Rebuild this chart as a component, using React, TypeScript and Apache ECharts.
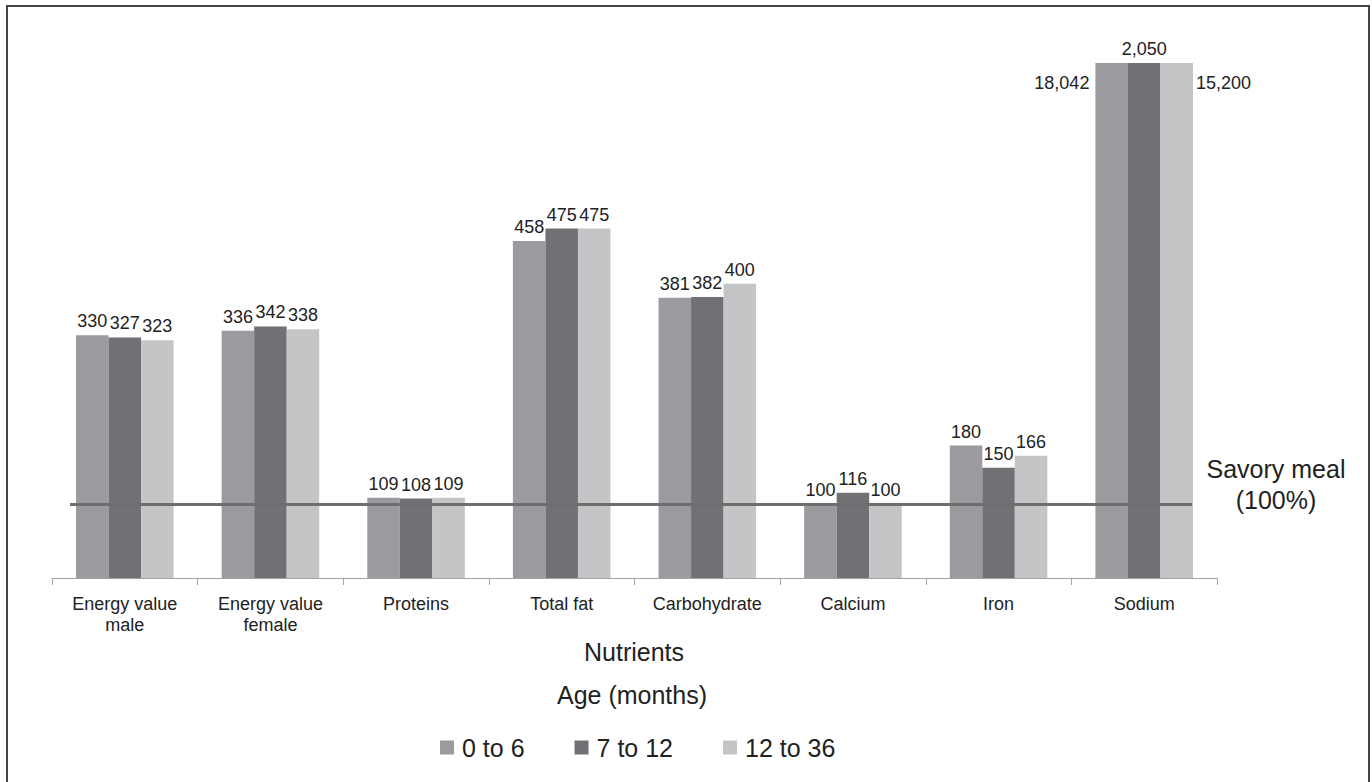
import React, { useEffect, useRef } from "react";
import * as echarts from "echarts";

const categories = [
  "Energy value\nmale",
  "Energy value\nfemale",
  "Proteins",
  "Total fat",
  "Carbohydrate",
  "Calcium",
  "Iron",
  "Sodium",
];
const seriesNames = ["0 to 6", "7 to 12", "12 to 36"];
const age0to6 = [330, 336, 109, 458, 381, 100, 180, 18042];
const age7to12 = [327, 342, 108, 475, 382, 116, 150, 2050];
const age12to36 = [323, 338, 109, 475, 400, 100, 166, 15200];
const colors = ["#9b9b9f", "#717175", "#c4c5c7"];
const axisCap = 700;
const referenceValue = 100;

const FONT = "'Liberation Sans', Arial, sans-serif";

function fmt(v: number) {
  return v.toLocaleString("en-US");
}

function buildData(values: number[], idx: number) {
  return values.map((v) => {
    const item: any = { value: Math.min(v, axisCap), real: v };
    if (v > axisCap) {
      if (idx === 0) {
        item.label = { position: [-6, 20], align: "right", verticalAlign: "middle" };
      } else if (idx === 2) {
        item.label = { position: ["100%", 20], offset: [3, 0], align: "left", verticalAlign: "middle" };
      }
    }
    return item;
  });
}

export default function App() {
  const ref = useRef<HTMLDivElement>(null);
  useEffect(() => {
    if (!ref.current) return;
    const chart = echarts.init(ref.current, undefined, { renderer: "svg" });
    const all = [age0to6, age7to12, age12to36];
    chart.setOption({
      animation: false,
      backgroundColor: "#ffffff",
      textStyle: { fontFamily: FONT },
      grid: { left: 52, right: 155, top: 63, bottom: 204, containLabel: false },
      legend: {
        data: seriesNames,
        left: 440,
        top: 735,
        padding: 0,
        itemWidth: 14,
        itemHeight: 14,
        itemGap: 50,
        icon: "rect",
        textStyle: { fontSize: 25, color: "#222", fontFamily: FONT, padding: [0, 0, 0, 3] },
      },
      xAxis: {
        type: "category",
        data: categories,
        axisLine: { lineStyle: { color: "#a3a3a3", width: 1 } },
        axisTick: { show: true, length: 7, lineStyle: { color: "#a3a3a3" } },
        axisLabel: { fontSize: 18, color: "#222", lineHeight: 21, margin: 15, fontFamily: FONT },
      },
      yAxis: {
        type: "value",
        min: 0,
        max: axisCap,
        show: false,
        splitLine: { show: false },
      },
      graphic: [
        {
          type: "rect",
          shape: { x: 7, y: 6, width: 1362, height: 820 },
          style: { fill: "none", stroke: "#444", lineWidth: 2 },
          silent: true,
        },
        {
          type: "text",
          x: 1276,
          y: 484,
          style: {
            text: "Savory meal\n(100%)",
            fontSize: 25,
            lineHeight: 31,
            fill: "#222",
            textAlign: "center",
            textVerticalAlign: "middle",
            fontFamily: FONT,
          },
        },
        {
          type: "text",
          x: 634,
          y: 652,
          style: { text: "Nutrients", fontSize: 25, fill: "#222", textAlign: "center", textVerticalAlign: "middle", fontFamily: FONT },
        },
        {
          type: "text",
          x: 632,
          y: 695,
          style: { text: "Age (months)", fontSize: 25, fill: "#222", textAlign: "center", textVerticalAlign: "middle", fontFamily: FONT },
        },
      ],
      series: all.map((vals, i) => ({
        name: seriesNames[i],
        type: "bar",
        data: buildData(vals, i),
        barGap: "0%",
        barCategoryGap: "33%",
        itemStyle: { color: colors[i] },
        label: {
          show: true,
          position: "top",
          distance: 5,
          fontSize: 18,
          color: "#222",
          fontFamily: FONT,
          formatter: (p: any) => fmt(p.data.real),
        },
        z: 2,
        markLine:
          i === 0
            ? {
                silent: true,
                symbol: "none",
                label: { show: false },
                lineStyle: { color: "#6e6e6e", width: 3, type: "solid" },
                data: [
                  [
                    { coord: [0, referenceValue], x: 70 },
                    { coord: [7, referenceValue], x: 1192 },
                  ],
                ],
                z: 5,
              }
            : undefined,
      })),
    });
    return () => chart.dispose();
  }, []);
  return (
    <div
      ref={ref}
      style={{ position: "fixed", left: 0, top: 0, width: 1372, height: 782, background: "#fff" }}
    />
  );
}
